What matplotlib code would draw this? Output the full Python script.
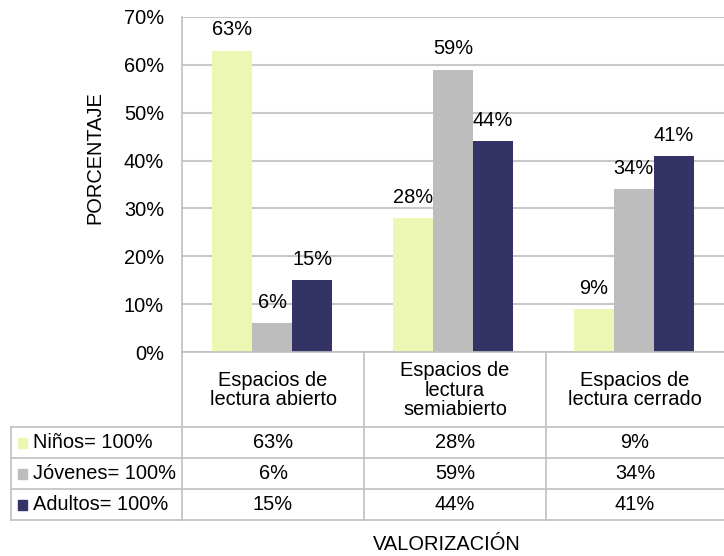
import matplotlib
matplotlib.use("Agg")
import matplotlib.pyplot as plt
from matplotlib.lines import Line2D
from matplotlib.patches import Rectangle

categories = ["Espacios de\nlectura abierto", "Espacios de\nlectura\nsemiabierto", "Espacios de\nlectura cerrado"]
series_names = ["Niños= 100%", "Jóvenes= 100%", "Adultos= 100%"]
ninos = [63, 28, 9]
jovenes = [6, 59, 34]
adultos = [15, 44, 41]
series = [ninos, jovenes, adultos]
colors = ["#EBF7B2", "#BDBDBD", "#333366"]
yticks = [0, 10, 20, 30, 40, 50, 60, 70]

plt.rcParams['font.family'] = ['Liberation Sans', 'DejaVu Sans']
FS = 14.4
W, H = 724, 556
fig = plt.figure(figsize=(W/100, H/100), dpi=100)

def fx(px): return px / W
def fy(py): return 1 - py / H

ax = fig.add_axes([fx(182), fy(352), fx(724) - fx(182), fy(17) - fy(352)])
bw = 40.4 / 182
x = list(range(len(categories)))
for i, (vals, c) in enumerate(zip(series, colors)):
    pos = [xi + (i - 1) * bw for xi in x]
    ax.bar(pos, vals, width=bw, color=c, edgecolor='none', zorder=3)
    for p, v in zip(pos, vals):
        ax.annotate(f"{v}%", (p, v), xytext=(0, 11), textcoords='offset points',
                    ha='center', va='baseline', fontsize=FS, color='#000000', zorder=4)

ax.set_xlim(-0.5, 2.5)
ax.set_ylim(0, 70)
ax.set_yticks(yticks)
ax.set_yticklabels([f"{t}%" for t in yticks], fontsize=FS)
ax.yaxis.grid(True, color='#C8C8C8', linewidth=1.5, zorder=0)
ax.set_xticks([])
ax.tick_params(axis='y', length=0, pad=13)
for s in ['top', 'right', 'bottom']:
    ax.spines[s].set_visible(False)
ax.spines['left'].set_color('#C0C0C0')
ax.spines['left'].set_linewidth(1.2)
fig.text(fx(95), fy(158), "PORCENTAJE", rotation=90, ha='center', va='center', fontsize=FS)

# data table
lc = '#C0C0C0'
lw = 1.2
col_edges = [182, 364, 546, 724]
row_edges = [352, 427, 458, 489, 520]
for xe in col_edges[:-1]:
    fig.add_artist(Line2D([fx(xe), fx(xe)], [fy(352), fy(520)], color=lc, lw=lw))
fig.add_artist(Line2D([fx(11), fx(11)], [fy(427), fy(520)], color=lc, lw=lw))
fig.add_artist(Line2D([fx(182), fx(724)], [fy(352), fy(352)], color=lc, lw=lw))
for ye in row_edges[1:]:
    fig.add_artist(Line2D([fx(11), fx(724)], [fy(ye), fy(ye)], color=lc, lw=lw))

for j, cat in enumerate(categories):
    cx = (col_edges[j] + col_edges[j + 1]) / 2
    fig.text(fx(cx), fy(390), cat, ha='center', va='center', fontsize=FS, linespacing=1.05)
for i, (name, vals, c) in enumerate(zip(series_names, series, colors)):
    cy = (row_edges[i + 1] + row_edges[i + 2]) / 2
    fig.add_artist(Rectangle((fx(18), fy(cy + 5)), fx(9), fy(cy - 5) - fy(cy + 5), color=c, transform=fig.transFigure))
    fig.text(fx(33), fy(cy), name, ha='left', va='center', fontsize=FS)
    for j, v in enumerate(vals):
        cx = (col_edges[j] + col_edges[j + 1]) / 2
        fig.text(fx(cx), fy(cy), f"{v}%", ha='center', va='center', fontsize=FS)

fig.text(fx(447), fy(545), "VALORIZACIÓN", ha='center', va='center', fontsize=FS)

fig.savefig("out.png", dpi=100)
